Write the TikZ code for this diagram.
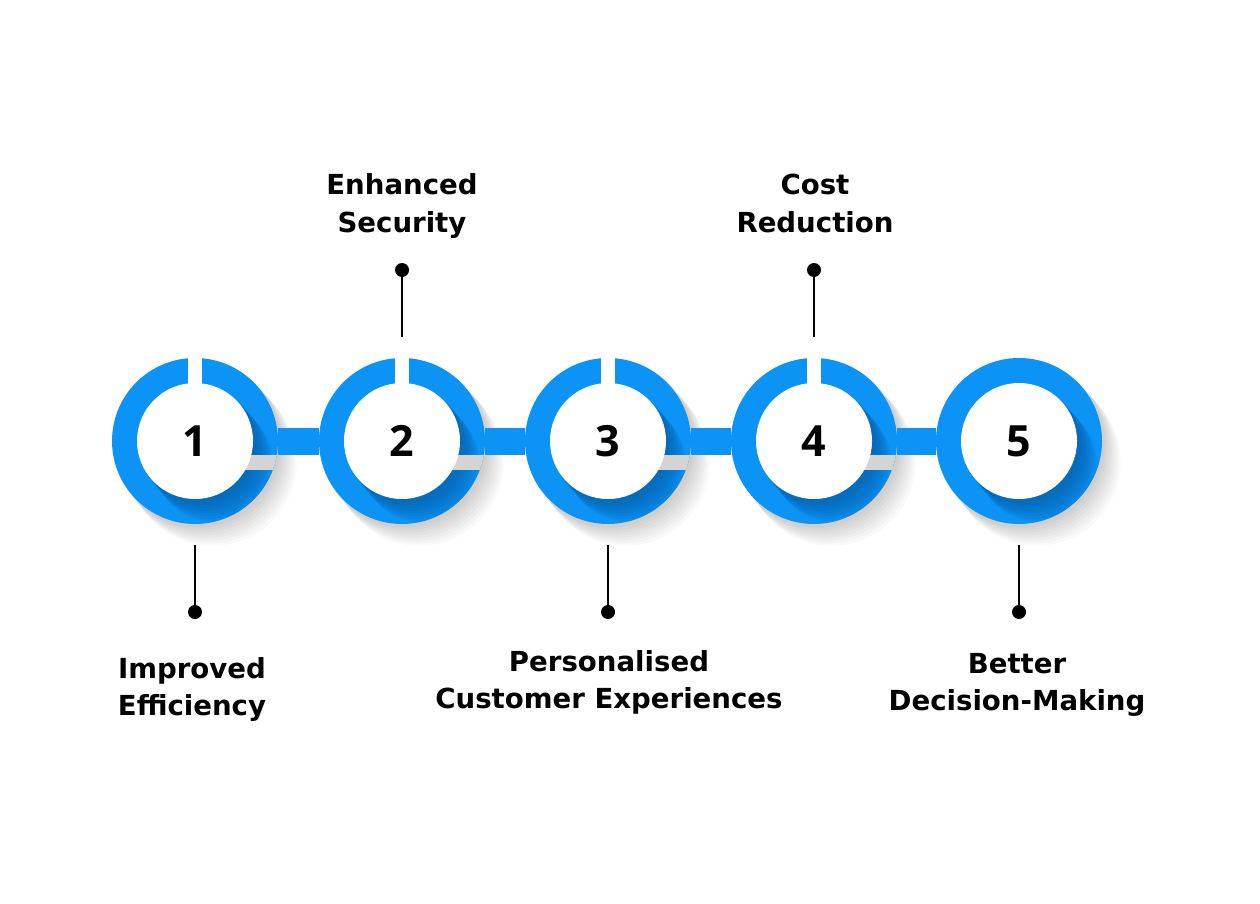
\documentclass[tikz,border=0pt]{standalone}
\usepackage{fontspec}
\setmainfont{DejaVu Sans}
\newfontfamily\numfont{Open Sans}
\usepackage{tikz}
\usetikzlibrary{calc}
\definecolor{ringblue}{HTML}{0B93F6}
\definecolor{deepblue}{HTML}{064E8C}
% soft grey shadow under a ring
\newcommand{\dropshadow}[1]{%
  \foreach \k in {1,...,8}
    \fill[black,opacity=.022] ($(#1)+(2.2*\k,2.6*\k)$) circle (84pt);}
% darker blue where the white disc shades the ring
\newcommand{\innershade}[1]{%
  \begin{scope}
    \clip (#1) circle (83pt);
    \foreach \k in {1,...,8}
      \fill[deepblue,opacity=.09] ($(#1)+(2.3*\k,2.7*\k)$) circle (59pt);
  \end{scope}}
% slit on top and notch under the bar
\newcommand{\cuts}[1]{%
  \begin{scope}
    \clip (#1) circle (83pt);
    \fill[black!17] ($(#1)+(0,14)$) rectangle ($(#1)+(90,29)$);
  \end{scope}
  \fill[white] ($(#1)+(-7,-90)$) rectangle ($(#1)+(7,-50)$);}

\begin{document}
\begin{tikzpicture}[x=1pt,y=-1pt,
  ring/.style={circle,fill=ringblue,minimum size=166pt,inner sep=0pt},
  disc/.style={circle,fill=white,minimum size=116pt,inner sep=0pt,
    font=\numfont\bfseries\fontsize{43}{43}\selectfont},
  bar/.style={ringblue,line width=27pt},
  dot/.style={circle,fill=black,minimum size=14pt,inner sep=0pt},
  stem/.style={black,line width=1.6pt},
  caption/.style={align=center,anchor=base,
    font=\bfseries\fontsize{27.6}{37}\selectfont}]
  \fill[white] (0,0) rectangle (1260,904);
  \useasboundingbox (0,0) rectangle (1260,904);
  \coordinate (c1) at (195,441);
  \coordinate (c2) at (402,441);
  \coordinate (c3) at (608,441);
  \coordinate (c4) at (814,441);
  \coordinate (c5) at (1019,441);
  % shadows and rings
  \dropshadow{c1} \dropshadow{c2} \dropshadow{c3} \dropshadow{c4} \dropshadow{c5}
  \node[ring] (r1) at (c1) {};
  \node[ring] (r2) at (c2) {};
  \node[ring] (r3) at (c3) {};
  \node[ring] (r4) at (c4) {};
  \node[ring] (r5) at (c5) {};
  \innershade{c1} \innershade{c2} \innershade{c3} \innershade{c4} \innershade{c5}
  \draw[bar] (r1)--(r2);
  \draw[bar] (r2)--(r3);
  \draw[bar] (r3)--(r4);
  \draw[bar] (r4)--(r5);
  \cuts{c1} \cuts{c2} \cuts{c3} \cuts{c4}
  \node[disc] (n1) at (c1) {1};
  \node[disc] (n2) at (c2) {2};
  \node[disc] (n3) at (c3) {3};
  \node[disc] (n4) at (c4) {4};
  \node[disc] (n5) at (c5) {5};
  % labels above
  \node[dot] (d2) at (402,270) {};
  \node[dot] (d4) at (814,270) {};
  \draw[stem,shorten >=21pt] (d2)--(r2);
  \draw[stem,shorten >=21pt] (d4)--(r4);
  \node[caption] (t2) at (402,232) {Enhanced\\Security};
  \node[caption] (t4) at (815,232) {Cost\\Reduction};
  % labels below
  \node[dot] (d1) at (195,612) {};
  \node[dot] (d3) at (608,612) {};
  \node[dot] (d5) at (1019,612) {};
  \draw[stem,shorten <=21pt] (r1)--(d1);
  \draw[stem,shorten <=21pt] (r3)--(d3);
  \draw[stem,shorten <=21pt] (r5)--(d5);
  \node[caption] (t1) at (192,715) {Improved\\Efficiency};
  \node[caption] (t3) at (609,708) {Personalised\\Customer Experiences};
  \node[caption] (t5) at (1017,710) {Better\\Decision-Making};
\end{tikzpicture}
\end{document}
